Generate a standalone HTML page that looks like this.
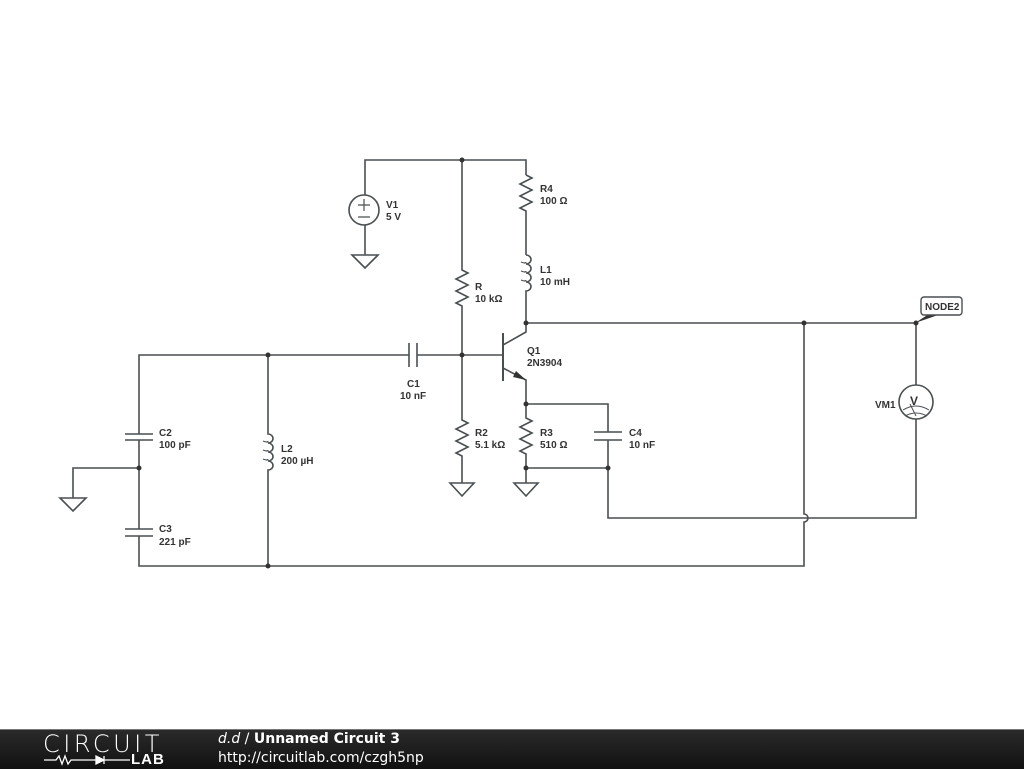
<!DOCTYPE html>
<html><head><meta charset="utf-8"><style>
html,body{margin:0;padding:0;background:#fff;width:1024px;height:768px;overflow:hidden}
.foot{position:absolute;left:0;top:729px;width:1024px;height:39px;background:linear-gradient(#2a2a2a,#111);border-top:1px solid #777}
.t{font-family:"DejaVu Sans","Liberation Sans",sans-serif;color:#fff;position:absolute;left:218px;font-size:14px;white-space:nowrap}
</style></head><body>
<svg width="1024" height="768" style="position:absolute;left:0;top:0" xmlns="http://www.w3.org/2000/svg">
<g stroke="#4a4f52" stroke-width="1.6" fill="none">
<path d="M365 195V160H526V175"/>
<path d="M365 225V255"/>
<circle cx="364" cy="210" r="15"/>
<path d="M358 205h12M364 199v12M358 217h12" stroke-width="1.2"/>
<path d="M352 255h26l-13 13z"/>
<path d="M462 160V270l6 3-12 6 12 6-12 6 12 6-12 6 6 3V420l6 3-12 6 12 6-12 6 12 6-12 6 6 3V483"/>
<path d="M450 483h24l-12 13z"/>
<path d="M526 175l6 3-12 6 12 6-12 6 12 6-12 6 6 3V255"/>
<path d="M526 255a5 4.5 0 1 1 0 9a5 4.5 0 1 1 0 9a5 4.5 0 1 1 0 9a5 4.5 0 1 1 0 9V332L503 345"/>
<path d="M521 262q5 2 5 0M521 271q5 2 5 0M521 280q5 2 5 0" stroke-width="1.2"/>
<path d="M503 333V381" stroke-width="2"/>
<path d="M503 368L526 380V404V418l6 3-12 6 12 6-12 6 12 6-12 6 6 3V483"/>
<path d="M514 483h24l-12 13z"/>
<path d="M526 404H608V432M594 432h28M594 440h28M608 440V518H916V419"/>
<path d="M526 468H608"/>
<path d="M526 323H916V385"/>
<circle cx="916" cy="402" r="17"/>
<path d="M903 410q13-8 26 0M905 416q11-6 22 0M910 404l6 12" stroke-width="1"/>
<path d="M804 323V514a4 4 0 0 1 0 8V566H139V536"/>
<path d="M139 529V468V440M139 434V355H409M125 434h28M125 440h28M125 529h28M125 536h28"/>
<path d="M409 343v24M417 343v24M417 355H503"/>
<path d="M139 468H73V498M60 498h26l-13 13z"/>
<path d="M268 355V434a5 4.5 0 1 1 0 9a5 4.5 0 1 1 0 9a5 4.5 0 1 1 0 9a5 4.5 0 1 1 0 9V566"/>
<path d="M263 441q5 2 5 0M263 450q5 2 5 0M263 459q5 2 5 0" stroke-width="1.2"/>
</g>
<path d="M526 380l-10-9-3 6z" fill="#333"/>
<g fill="#333">
<circle cx="462" cy="160" r="2.5"/><circle cx="462" cy="355" r="2.5"/><circle cx="526" cy="323" r="2.5"/>
<circle cx="526" cy="404" r="2.5"/><circle cx="526" cy="468" r="2.5"/><circle cx="608" cy="468" r="2.5"/>
<circle cx="804" cy="323" r="2.5"/><circle cx="916" cy="323" r="2.5"/><circle cx="268" cy="355" r="2.5"/>
<circle cx="268" cy="566" r="2.5"/><circle cx="139" cy="468" r="2.5"/>
<path d="M915 323l14-9h12z"/>
</g>
<rect x="921" y="297" width="41" height="18" rx="3" fill="#fff" stroke="#4a4f52" stroke-width="1.4"/>
<g font-family="Liberation Sans, sans-serif" font-size="10" font-weight="bold" fill="#333">
<text x="925" y="310">NODE2</text>
<text x="910" y="405" font-size="12">V</text>
<text x="875" y="408">VM1</text>
<text x="386" y="208">V1</text><text x="386" y="220">5 V</text>
<text x="540" y="192">R4</text><text x="540" y="204">100 Ω</text>
<text x="540" y="273">L1</text><text x="540" y="285">10 mH</text>
<text x="475" y="290">R</text><text x="475" y="302">10 kΩ</text>
<text x="527" y="354">Q1</text><text x="527" y="366">2N3904</text>
<text x="407" y="387">C1</text><text x="400" y="399">10 nF</text>
<text x="475" y="436">R2</text><text x="475" y="448">5.1 kΩ</text>
<text x="540" y="436">R3</text><text x="540" y="448">510 Ω</text>
<text x="629" y="436">C4</text><text x="629" y="448">10 nF</text>
<text x="159" y="436">C2</text><text x="159" y="448">100 pF</text>
<text x="281" y="452">L2</text><text x="281" y="464">200 µH</text>
<text x="159" y="532">C3</text><text x="159" y="545">221 pF</text>
</g>
</svg>
<div class="foot">
<div style="position:absolute;left:43px;top:0px;font-family:'DejaVu Sans',sans-serif;font-size:24px;color:#fff;font-weight:200;letter-spacing:3.5px">CIRCUIT</div>
<div style="position:absolute;left:131px;top:21px;font-family:'Liberation Sans',sans-serif;font-size:15px;color:#fff;font-weight:bold;letter-spacing:1px">LAB</div>
<svg style="position:absolute;left:44px;top:24px" width="86" height="12"><path d="M0 6h12l3-4 3 8 3-8 3 8 3-4h25M60 6h26" stroke="#fff" stroke-width="1.3" fill="none"/><path d="M52 2v8l8-4zM60 2v8" stroke="#fff" stroke-width="1.3" fill="#fff"/></svg>
<div class="t" style="top:1px"><i>d.d</i> / <b>Unnamed Circuit 3</b></div>
<div class="t" style="top:20px">http://circuitlab.com/czgh5np</div>
</div>
</body></html>
